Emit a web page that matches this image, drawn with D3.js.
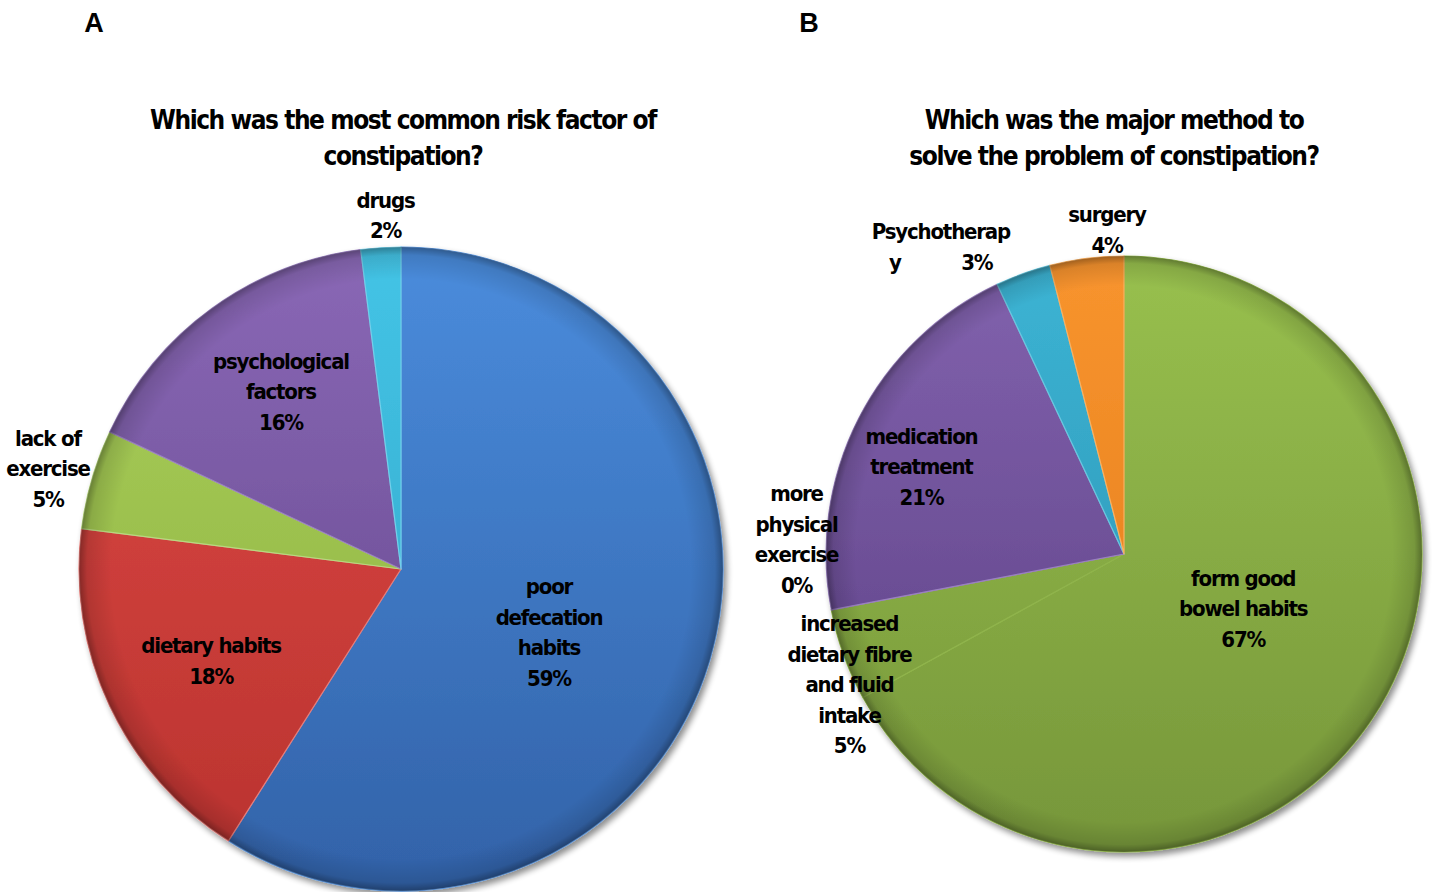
<!DOCTYPE html>
<html>
<head>
<meta charset="utf-8">
<script src="https://cdn.jsdelivr.net/npm/d3@7/dist/d3.min.js"></script>
<style>
  html, body { margin: 0; padding: 0; background: #fff; }
  svg { display: block; }
  text { font-family: "Liberation Sans Narrow", "DejaVu Sans Condensed", "Roboto Condensed", sans-serif; font-weight: bold; fill: #000; }
</style>
</head>
<body>
<svg id="chart" width="1432" height="892"></svg>
<script>
// Panel A: risk factors of constipation
const riskCategories = ["poor defecation habits", "dietary habits", "lack of exercise", "psychological factors", "drugs"];
const riskValues = [59, 18, 5, 16, 2];
const riskLabelLines = [["poor", "defecation", "habits"], ["dietary habits"], ["lack of", "exercise"], ["psychological", "factors"], ["drugs"]];

// Panel B: methods used to solve constipation
const methodCategories = ["form good bowel habits", "increased dietary fibre and fluid intake", "more physical exercise", "medication treatment", "Psychotherapy", "surgery"];
const methodValues = [67, 5, 0, 21, 3, 4];
const methodLabelLines = [["form good", "bowel habits"], ["increased", "dietary fibre", "and fluid", "intake"], ["more", "physical", "exercise"], ["medication", "treatment"], ["Psychotherap", "y"], ["surgery"]];

const titleA = ["Which was the most common risk factor of", "constipation?"];
const titleB = ["Which was the major method to", "solve the problem of constipation?"];

const svg = d3.select("#chart");
const defs = svg.append("defs");

// soft drop shadow under each pie
const sh = defs.append("filter").attr("id", "shadow").attr("x", "-10%").attr("y", "-10%").attr("width", "125%").attr("height", "125%");
sh.append("feGaussianBlur").attr("in", "SourceAlpha").attr("stdDeviation", 3);
sh.append("feOffset").attr("dx", 3).attr("dy", 4).attr("result", "off");
sh.append("feComponentTransfer").append("feFuncA").attr("type", "linear").attr("slope", 0.45);
const shm = sh.append("feMerge");
shm.append("feMergeNode");
shm.append("feMergeNode").attr("in", "SourceGraphic");

// darkened rim giving the bevelled look
const rim = defs.append("radialGradient").attr("id", "rim");
rim.append("stop").attr("offset", "0.9").attr("stop-color", "#000").attr("stop-opacity", 0);
rim.append("stop").attr("offset", "0.975").attr("stop-color", "#000").attr("stop-opacity", 0.12);
rim.append("stop").attr("offset", "1").attr("stop-color", "#000").attr("stop-opacity", 0.35);

function drawPie(cfg) {
  const g = svg.append("g").attr("transform", `translate(${cfg.cx},${cfg.cy})`);
  const pie = d3.pie().sort(null).value(d => d)(cfg.values);
  const arc = d3.arc().innerRadius(0).outerRadius(cfg.r);

  cfg.colors.forEach((c, i) => {
    const lg = defs.append("linearGradient")
      .attr("id", `${cfg.id}-g${i}`)
      .attr("gradientUnits", "userSpaceOnUse")
      .attr("x1", 0).attr("y1", -cfg.r).attr("x2", 0).attr("y2", cfg.r);
    lg.append("stop").attr("offset", "0").attr("stop-color", c[0]);
    lg.append("stop").attr("offset", "1").attr("stop-color", c[1]);
  });

  const body = g.append("g").attr("filter", "url(#shadow)");
  body.selectAll("path.slice")
    .data(pie)
    .join("path")
    .attr("class", "slice")
    .attr("d", arc)
    .attr("fill", (d, i) => `url(#${cfg.id}-g${i})`)
    .attr("stroke", (d, i) => cfg.edges[i])
    .attr("stroke-width", 1.2)
    .attr("stroke-linejoin", "round");

  g.append("circle").attr("r", cfg.r).attr("fill", "url(#rim)").attr("pointer-events", "none");

  // data labels
  const lh = 30.5;
  pie.forEach((d, i) => {
    const pl = cfg.place[i];
    const mid = (d.startAngle + d.endAngle) / 2 + pl.shift * Math.PI / 180;
    const rr = cfg.r * pl.k;
    const x = Math.sin(mid) * rr;
    const y = -Math.cos(mid) * rr;
    const lines = cfg.lines[i].slice();
    const pct = d.data + "%";
    const t = g.append("text").attr("text-anchor", "middle").style("font-size", "22px").style("letter-spacing", "-1.2px");
    if (pl.inline) {
      // last text fragment shares its row with the percentage
      const n = lines.length;
      const y0 = y - (n - 1) * lh / 2;
      lines.forEach((s, j) => {
        t.append("tspan").attr("x", j === n - 1 ? x + pl.inline[0] : x).attr("y", y0 + j * lh).attr("dy", "0.35em").text(s);
      });
      t.append("tspan").attr("x", x + pl.inline[1]).attr("y", y0 + (n - 1) * lh).attr("dy", "0.35em").text(pct);
    } else {
      lines.push(pct);
      const n = lines.length;
      const y0 = y - (n - 1) * lh / 2;
      lines.forEach((s, j) => {
        t.append("tspan").attr("x", x).attr("y", y0 + j * lh).attr("dy", "0.35em").text(s);
      });
    }
  });

  // title
  const tt = svg.append("text").attr("text-anchor", "middle").style("font-size", "26px").style("letter-spacing", "-1.45px");
  cfg.title.forEach((s, j) => {
    tt.append("tspan").attr("x", cfg.titleX).attr("y", cfg.titleY + j * 36).text(s);
  });

  svg.append("text").attr("x", cfg.panelX).attr("y", 32)
    .attr("text-anchor", "middle")
    .style("font-family", "'Liberation Sans', Arial, sans-serif")
    .style("font-size", "27px")
    .text(cfg.panel);
}

drawPie({
  id: "a", panel: "A", panelX: 94,
  cx: 401, cy: 569, r: 322,
  values: riskValues,
  lines: riskLabelLines,
  title: titleA, titleX: 403, titleY: 129,
  colors: [["#4a8cdc", "#3262a8"], ["#e04a46", "#b8322e"], ["#abd05a", "#8aae40"], ["#8a68b6", "#604488"], ["#44c4e6", "#2ea2c4"]],
  edges: ["#5b95dc", "#e87c78", "#b8d880", "#9a80c0", "#70d0ea"],
  place: [
    { k: 0.5, shift: 7 },
    { k: 0.655, shift: -0.6 },
    { k: 1.14, shift: -0.3 },
    { k: 0.665, shift: 1.9 },
    { k: 1.1, shift: 1.1 }
  ]
});

drawPie({
  id: "b", panel: "B", panelX: 809,
  cx: 1124, cy: 554, r: 298,
  values: methodValues,
  lines: methodLabelLines,
  title: titleB, titleX: 1114, titleY: 129,
  colors: [["#98c04e", "#76963a"], ["#98c04e", "#76963a"], ["#8a68b6", "#604488"], ["#8262ae", "#5a3f82"], ["#3cb4d4", "#2a8eae"], ["#f8942e", "#e07a18"]],
  edges: ["#90b44c", "#90b44c", "#9a80c0", "#9a80c0", "#68c8e0", "#fab060"],
  place: [
    { k: 0.44, shift: -6 },
    { k: 1.02, shift: -5.6 },
    { k: 1.1, shift: 13.4 },
    { k: 0.74, shift: -3.7 },
    { k: 1.2, shift: -11, inline: [-46, 36] },
    { k: 1.09, shift: 4.2 }
  ]
});
</script>
</body>
</html>
